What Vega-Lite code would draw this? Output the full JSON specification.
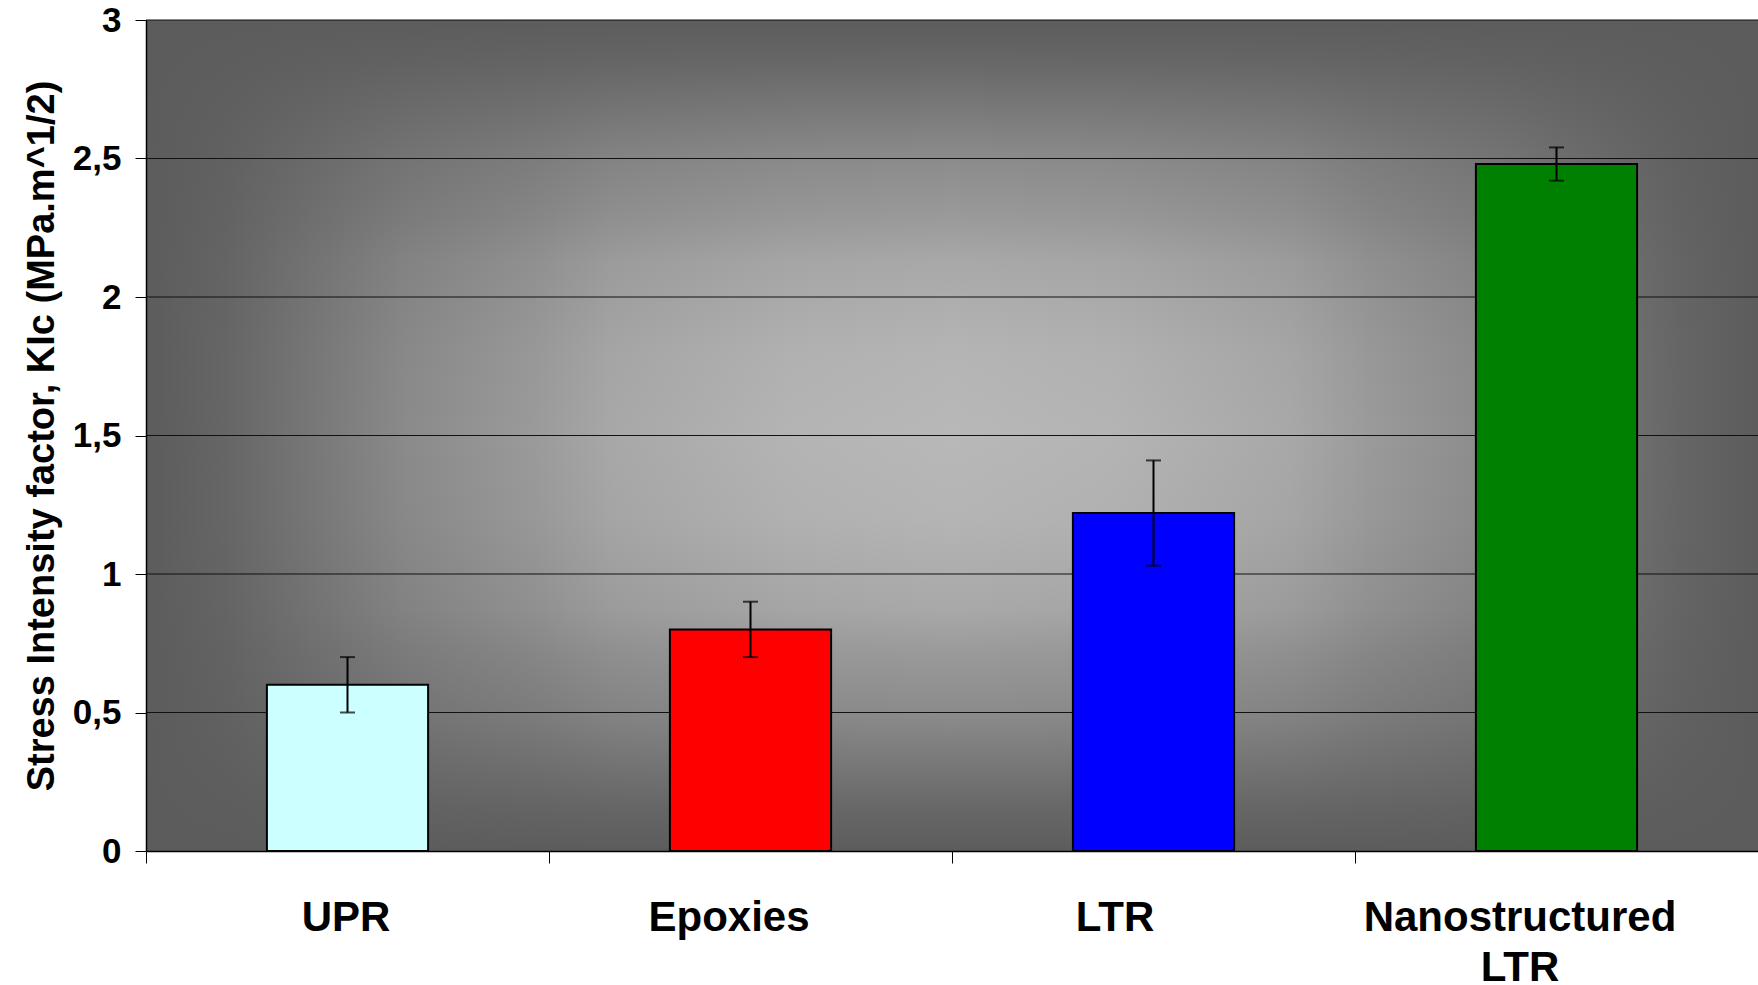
{
  "$schema": "https://vega.github.io/schema/vega-lite/v6.json",
  "autosize": {"type": "none"},
  "width": 1612,
  "height": 831,
  "padding": {"left": 146, "top": 20, "right": 0, "bottom": 134},
  "background": "white",
  "datasets": {
    "bars": [
      {"name": "UPR", "value": 0.6, "lo": 0.5, "hi": 0.7},
      {"name": "Epoxies", "value": 0.8, "lo": 0.7, "hi": 0.9},
      {"name": "LTR", "value": 1.22, "lo": 1.03, "hi": 1.41},
      {"name": "Nanostructured LTR", "value": 2.48, "lo": 2.42, "hi": 2.54}
    ],
    "grid": [
      {"g": 0.5}, {"g": 1}, {"g": 1.5}, {"g": 2}, {"g": 2.5}, {"g": 3}
    ],
    "bg": [{"k": 1}]
  },
  "data": {"name": "bars"},
  "layer": [
    {
      "data": {"name": "bg"},
      "mark": {
        "type": "rect",
        "fill": {
          "gradient": "linear",
          "x1": 0, "y1": 0, "x2": 0, "y2": 1,
          "stops": [
            {"offset": 0, "color": "rgba(92,92,92,1)"},
            {"offset": 0.05, "color": "rgba(92,92,92,0.88)"},
            {"offset": 0.16, "color": "rgba(92,92,92,0.5)"},
            {"offset": 0.24, "color": "rgba(92,92,92,0.32)"},
            {"offset": 0.29, "color": "rgba(92,92,92,0.17)"},
            {"offset": 0.4, "color": "rgba(92,92,92,0.04)"},
            {"offset": 0.5, "color": "rgba(92,92,92,0)"},
            {"offset": 0.6, "color": "rgba(92,92,92,0.04)"},
            {"offset": 0.71, "color": "rgba(92,92,92,0.17)"},
            {"offset": 0.76, "color": "rgba(92,92,92,0.32)"},
            {"offset": 0.84, "color": "rgba(92,92,92,0.5)"},
            {"offset": 0.95, "color": "rgba(92,92,92,0.88)"},
            {"offset": 1, "color": "rgba(92,92,92,1)"}
          ]
        }
      },
      "encoding": {
        "y": {"datum": 3, "type": "quantitative", "scale": {"domain": [0, 3], "nice": false}},
        "y2": {"datum": 0}
      }
    },
    {
      "data": {"name": "grid"},
      "mark": {"type": "rule", "color": "#111111", "strokeWidth": 1.2},
      "encoding": {
        "y": {"field": "g", "type": "quantitative"}
      }
    },
    {
      "mark": {"type": "bar", "stroke": "black", "strokeWidth": 2, "width": {"band": 0.4}},
      "encoding": {
        "x": {
          "field": "name",
          "type": "nominal",
          "sort": null,
          "scale": {"paddingInner": 0, "paddingOuter": 0},
          "axis": {
            "title": null,
            "labelAngle": 0,
            "labelFont": "Liberation Sans",
            "labelFontWeight": "bold",
            "labelFontSize": 42,
            "labelColor": "black",
            "labelPadding": 34,
            "labelLineHeight": 50,
            "labelLimit": 0,
            "labelOffset": {
              "condition": [
                {"test": "datum.value == 'Epoxies'", "value": -22},
                {"test": "datum.value == 'LTR'", "value": -39},
                {"test": "datum.value == 'Nanostructured LTR'", "value": -37}
              ],
              "value": -2
            },
            "labelExpr": "datum.label == 'Nanostructured LTR' ? ['Nanostructured', 'LTR'] : datum.label",
            "tickBand": "extent",
            "tickSize": 12,
            "tickColor": "black",
            "domainColor": "black",
            "domainWidth": 1.5,
            "grid": false,
            "zindex": 1
          }
        },
        "y": {
          "field": "value",
          "type": "quantitative",
          "axis": {
            "values": [0, 0.5, 1, 1.5, 2, 2.5, 3],
            "labelExpr": "replace(format(datum.value, '~g'), '.', ',')",
            "title": "Stress Intensity factor, KIc (MPa.m^1/2)",
            "titleFont": "Liberation Sans",
            "titleFontWeight": "bold",
            "titleFontSize": 38,
            "titleColor": "black",
            "titleX": -104,
            "titleY": 415.5,
            "titleBaseline": "middle",
            "titleAngle": -90,
            "labelFont": "Liberation Sans",
            "labelFontWeight": "bold",
            "labelFontSize": 35,
            "labelColor": "black",
            "labelPadding": 14,
            "tickSize": 11,
            "tickColor": "black",
            "domainColor": "black",
            "domainWidth": 1.5,
            "grid": false,
            "zindex": 1
          }
        },
        "fill": {
          "field": "name",
          "type": "nominal",
          "scale": {
            "domain": ["UPR", "Epoxies", "LTR", "Nanostructured LTR"],
            "range": ["#CCFFFF", "#FF0000", "#0000FF", "#008000"]
          },
          "legend": null
        }
      }
    },
    {
      "mark": {"type": "rule", "color": "black", "strokeWidth": 2},
      "encoding": {
        "x": {"field": "name", "type": "nominal", "sort": null},
        "y": {"field": "lo", "type": "quantitative"},
        "y2": {"field": "hi"}
      }
    },
    {
      "mark": {"type": "tick", "color": "black", "thickness": 2, "size": 15},
      "encoding": {
        "x": {"field": "name", "type": "nominal", "sort": null},
        "y": {"field": "lo", "type": "quantitative"}
      }
    },
    {
      "mark": {"type": "tick", "color": "black", "thickness": 2, "size": 15},
      "encoding": {
        "x": {"field": "name", "type": "nominal", "sort": null},
        "y": {"field": "hi", "type": "quantitative"}
      }
    }
  ],
  "config": {
    "view": {
      "stroke": null,
      "fill": {
        "gradient": "linear",
        "x1": 0, "y1": 0, "x2": 1, "y2": 0,
        "stops": [
          {"offset": 0, "color": "#5c5c5c"},
          {"offset": 0.05, "color": "#666666"},
          {"offset": 0.16, "color": "#8a8a8a"},
          {"offset": 0.24, "color": "#9a9a9a"},
          {"offset": 0.29, "color": "#a8a8a8"},
          {"offset": 0.4, "color": "#b4b4b4"},
          {"offset": 0.5, "color": "#b8b8b8"},
          {"offset": 0.6, "color": "#b4b4b4"},
          {"offset": 0.71, "color": "#a8a8a8"},
          {"offset": 0.76, "color": "#9a9a9a"},
          {"offset": 0.84, "color": "#8a8a8a"},
          {"offset": 0.95, "color": "#666666"},
          {"offset": 1, "color": "#5c5c5c"}
        ]
      }
    }
  }
}
